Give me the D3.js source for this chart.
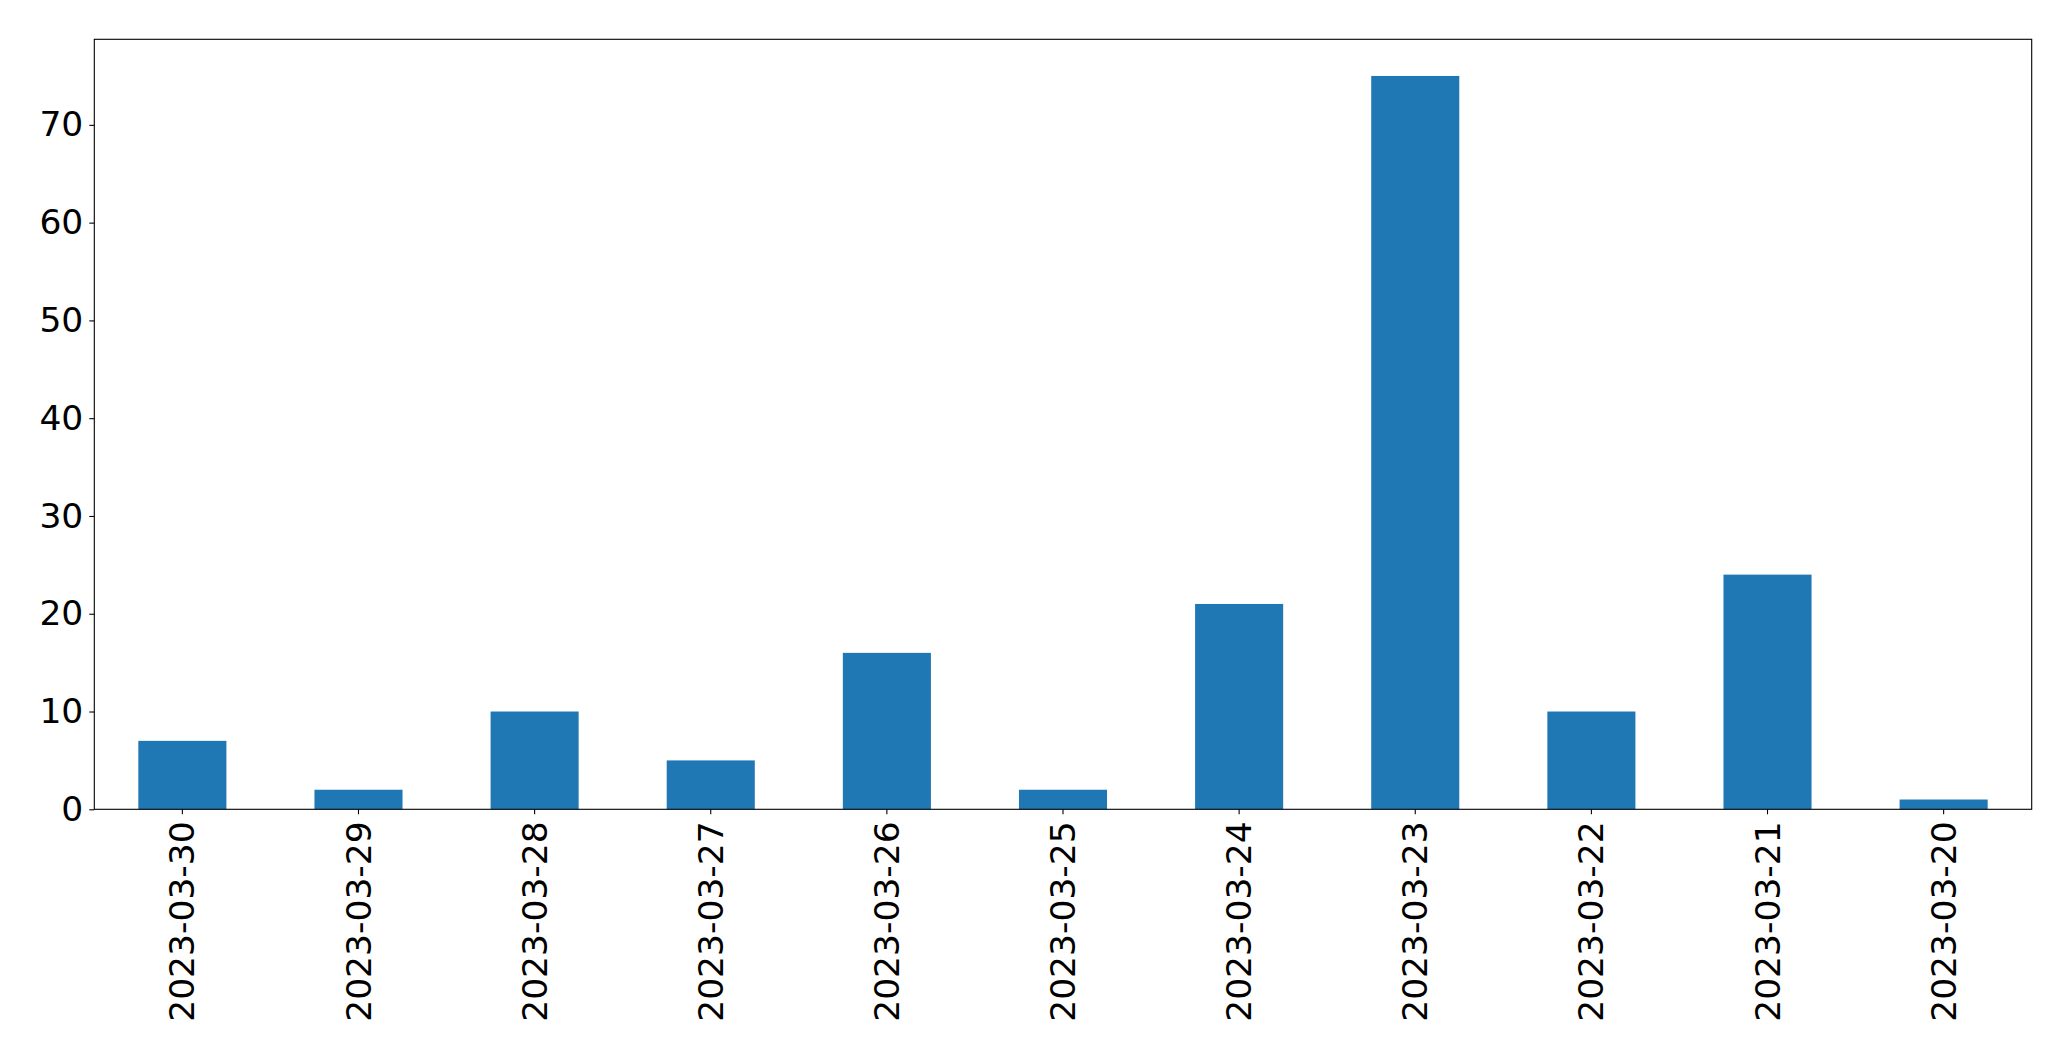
<!DOCTYPE html>
<html><head><meta charset="utf-8">
<script src="https://cdn.jsdelivr.net/npm/d3@7"></script>
<style>html,body{margin:0;padding:0;background:#fff;}svg{display:block;}</style>
</head><body>
<script>
const categories = ["2023-03-30","2023-03-29","2023-03-28","2023-03-27","2023-03-26","2023-03-25","2023-03-24","2023-03-23","2023-03-22","2023-03-21","2023-03-20"];
const values = [7, 2, 10, 5, 16, 2, 21, 75, 10, 24, 1];
const yTicks = [0, 10, 20, 30, 40, 50, 60, 70];

(function () {
const W = 2071, H = 1061;
const mLeft = 94.3, mRight = 2031.7, mTop = 39.3, mBottom = 809.3;
const svg = d3.select("body").append("svg").attr("width", W).attr("height", H);

const x = d3.scaleBand().domain(categories).range([mLeft, mRight]).paddingInner(0.5).paddingOuter(0.25);
const y = d3.scaleLinear().domain([0, d3.max(values) * 1.05]).range([mBottom, mTop]);

svg.append("g").selectAll("rect").data(values).join("rect")
  .attr("x", (d, i) => x(categories[i]))
  .attr("width", x.bandwidth())
  .attr("y", d => y(d))
  .attr("height", d => mBottom - y(d))
  .attr("fill", "#1f77b4");

const font = "'DejaVu Sans', sans-serif";
const fs = 34.5;

const ya = svg.append("g").attr("transform", `translate(${mLeft},0)`)
  .call(d3.axisLeft(y).tickValues(yTicks).tickSize(5).tickPadding(6).tickFormat(d3.format("d")));
ya.select(".domain").remove();
ya.selectAll("line").attr("stroke", "#000").attr("stroke-width", 1.1);
ya.selectAll("text").attr("font-family", font).attr("font-size", fs).attr("fill", "#000");

const xa = svg.append("g").attr("transform", `translate(0,${mBottom})`)
  .call(d3.axisBottom(x).tickSize(5).tickPadding(6));
xa.select(".domain").remove();
xa.selectAll("line").attr("stroke", "#000").attr("stroke-width", 1.1);
xa.selectAll("text").attr("font-family", font).attr("font-size", fs).attr("fill", "#000")
  .attr("transform", "rotate(-90)")
  .attr("text-anchor", "end")
  .attr("dy", "0.35em")
  .attr("x", -12).attr("y", 0);

svg.append("rect").attr("x", mLeft).attr("y", mTop).attr("width", mRight - mLeft).attr("height", mBottom - mTop)
  .attr("fill", "none").attr("stroke", "#000").attr("stroke-width", 1.1);
})();
</script>
</body></html>
